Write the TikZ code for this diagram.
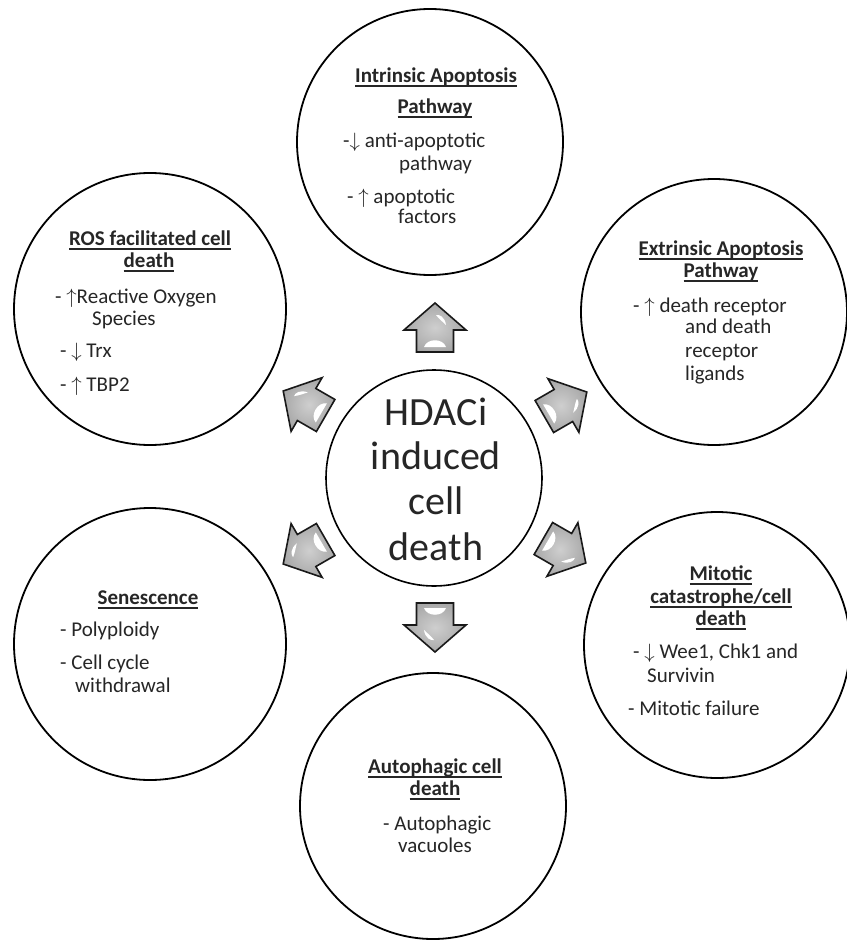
\documentclass[tikz,border=0pt]{standalone}
\usepackage{fontspec}
\setmainfont{Carlito}
\usetikzlibrary{calc}
\definecolor{txt}{HTML}{262626}
\newcommand{\ulx}[1]{\sbox0{#1}\rlap{\rule[-4.6pt]{\wd0}{1.5pt}}\usebox0}
\newcommand{\blockarr}[2]{%
  \begin{scope}[shift={(#1)}, rotate=#2, x=1pt, y=1pt]
    \shadedraw[blockarrow] (-25,-18.5) -- (-3,-18.5) -- (-3,-31) -- (24,0) -- (-3,31) -- (-3,18.5) -- (-25,18.5) -- cycle;
    \fill[shine] (-20,-11) .. controls (-11,-8) and (-11,8) .. (-20,11) -- cycle;
    \fill[shine] (2,-11) .. controls (10,-10) and (13,-4) .. (12,-1) .. controls (8,-4) and (5,-8) .. cycle;
  \end{scope}}
\tikzset{
  bubble/.style={circle, draw=black, line width=1.8pt, fill=white, minimum size=266pt, inner sep=0pt},
  hub/.style={circle, draw=black, line width=1.6pt, fill=white, minimum size=216pt, inner sep=0pt},
  headtxt/.style={font=\fontsize{21}{24}\selectfont\bfseries, text=txt, inner sep=0pt, anchor=base},
  bodytxt/.style={font=\fontsize{21}{24}\selectfont, text=txt, inner sep=0pt, anchor=base west},
  hubtxt/.style={font=\fontsize{40}{45}\selectfont, text=txt, inner sep=0pt, anchor=base},
  blockarrow/.style={draw=black!90, line width=1.6pt, line join=miter, inner color=gray!38, outer color=gray!68},
  shine/.style={fill=white, draw=none},
}
\begin{document}
\begin{tikzpicture}[x=1pt, y=-1pt]
\useasboundingbox (0,0) rectangle (846,942);
\fill[white] (0,0) rectangle (846,942);

% circles
\node[bubble] (cI) at (430,142) {};
\node[bubble] (cE) at (714,312) {};
\node[bubble, minimum size=272pt] (cR) at (150,309) {};
\node[bubble, minimum size=272pt] (cS) at (150,644) {};
\node[bubble] (cM) at (717,645) {};
\node[bubble] (cA) at (433,806) {};
\node[hub] (cC) at (434,478) {};

% arrows
\coordinate (aI) at (435,327);
\coordinate (aA) at (435,628);
\coordinate (aE) at (566,404);
\coordinate (aR) at (304,403);
\coordinate (aS) at (304,552);
\coordinate (aM) at (565,551);
\blockarr{aI}{90}
\blockarr{aA}{270}
\blockarr{aE}{30}
\blockarr{aR}{150}
\blockarr{aS}{210}
\blockarr{aM}{330}

% center text
\node[hubtxt] (h1) at (436,425) {HDACi};
\node[hubtxt] (h2) at (436,469) {induced};
\node[hubtxt] (h3) at (436,514) {cell};
\node[hubtxt] (h4) at (436,560) {death};

% Intrinsic
\node[headtxt] (i1) at (436,82) {\ulx{Intrinsic Apoptosis}};
\node[headtxt] (i2) at (435,113) {\ulx{Pathway}};
\node[bodytxt] (i3) at (343,147) {-$\downarrow$ anti-apoptotic};
\node[bodytxt] (i4) at (399,170) {pathway};
\node[bodytxt] (i5) at (347,203) {- $\uparrow$ apoptotic};
\node[bodytxt] (i6) at (398,223) {factors};

% Extrinsic
\node[headtxt] (e1) at (721,255) {\ulx{Extrinsic Apoptosis}};
\node[headtxt] (e2) at (721,277) {\ulx{Pathway}};
\node[bodytxt] (e3) at (633,312) {- $\uparrow$ death receptor};
\node[bodytxt] (e4) at (685,333) {and death};
\node[bodytxt] (e5) at (685,357) {receptor};
\node[bodytxt] (e6) at (685,380) {ligands};

% ROS
\node[headtxt] (r1) at (150,245) {\ulx{ROS facilitated cell}};
\node[headtxt] (r2) at (149,267) {\ulx{death}};
\node[bodytxt] (r3) at (55,303) {- $\uparrow$Reactive Oxygen};
\node[bodytxt] (r4) at (92,325) {Species};
\node[bodytxt] (r5) at (60,357) {- $\downarrow$ Trx};
\node[bodytxt] (r6) at (60,391) {- $\uparrow$ TBP2};

% Senescence
\node[headtxt] (s1) at (148,604) {\ulx{Senescence}};
\node[bodytxt] (s2) at (60,636) {- Polyploidy};
\node[bodytxt] (s3) at (60,669) {- Cell cycle};
\node[bodytxt] (s4) at (75,692) {withdrawal};

% Mitotic
\node[headtxt] (m1) at (721,580) {\ulx{Mitotic}};
\node[headtxt] (m2) at (721,603) {\ulx{catastrophe/cell}};
\node[headtxt] (m3) at (721,625) {\ulx{death}};
\node[bodytxt] (m4) at (633,658) {- $\downarrow$ Wee1, Chk1 and};
\node[bodytxt] (m5) at (647,682) {Survivin};
\node[bodytxt] (m6) at (628,715) {- Mitotic failure};

% Autophagic
\node[headtxt] (p1) at (435,773) {\ulx{Autophagic cell}};
\node[headtxt] (p2) at (435,795) {\ulx{death}};
\node[bodytxt] (p3) at (383,830) {- Autophagic};
\node[bodytxt] (p4) at (398,852) {vacuoles};
\end{tikzpicture}
\end{document}
